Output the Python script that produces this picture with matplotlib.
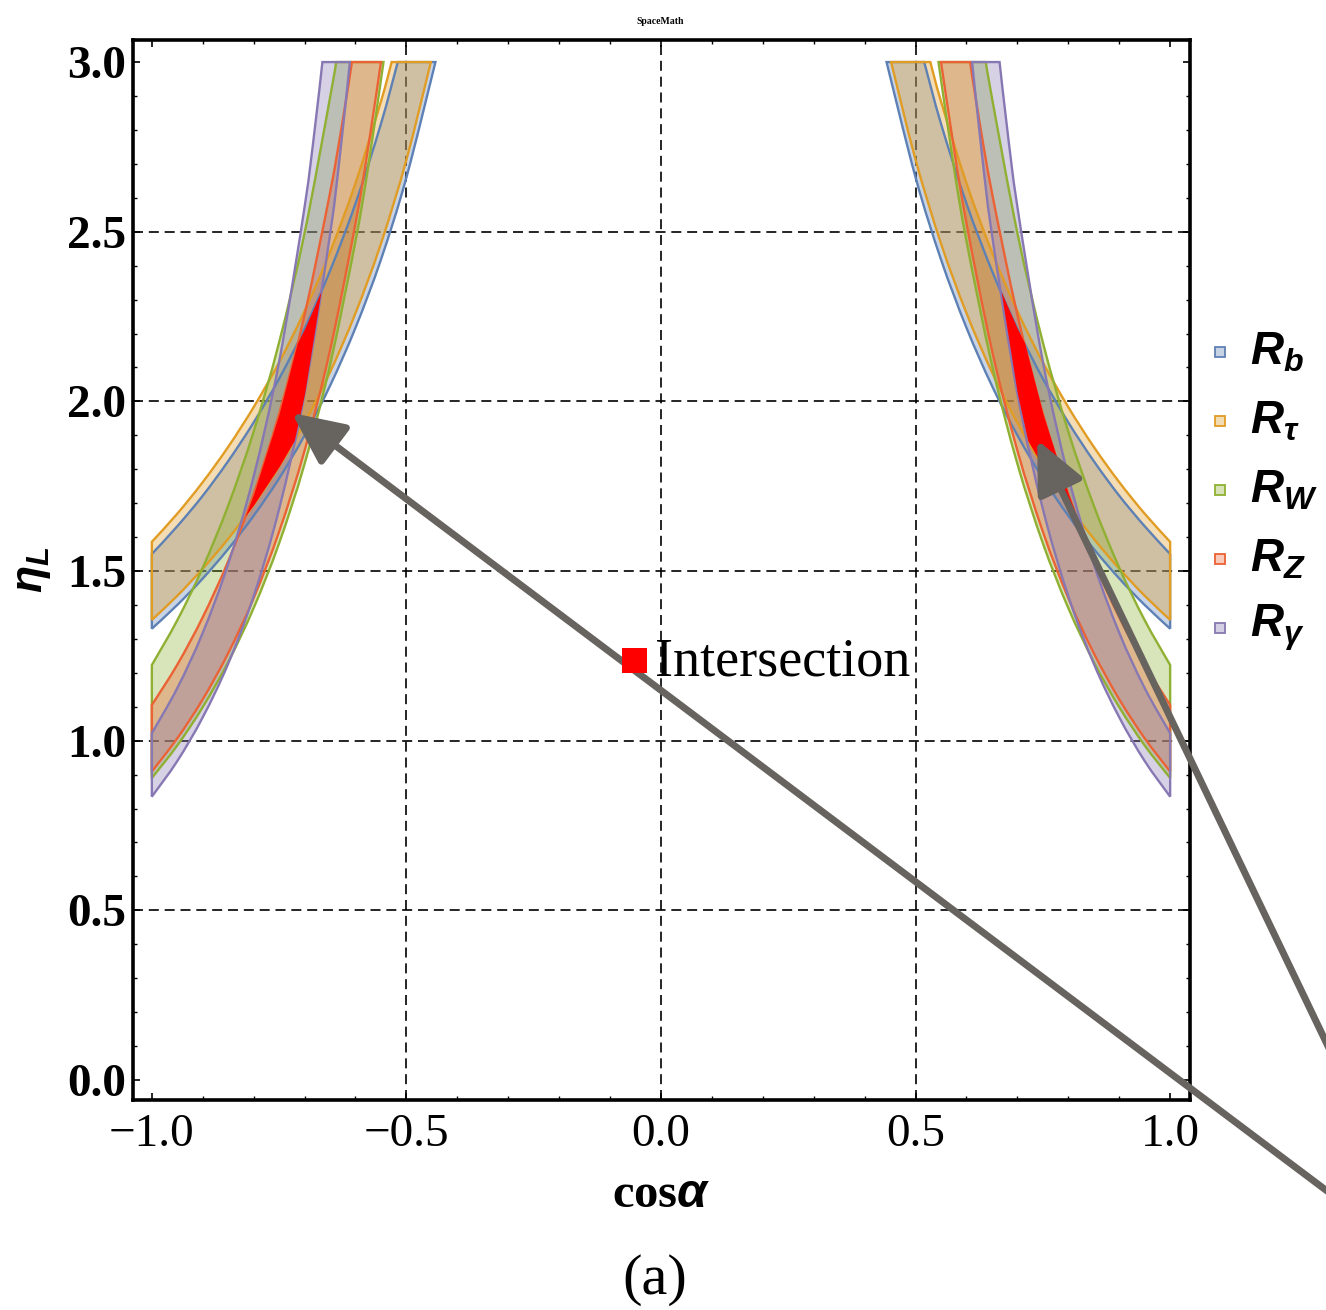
import numpy as np
import matplotlib
matplotlib.use('Agg')
import matplotlib.pyplot as plt
from matplotlib.patches import PathPatch, Rectangle
from matplotlib.path import Path
from matplotlib.ticker import MultipleLocator, FixedLocator, FixedFormatter

plt.rcParams['mathtext.fontset'] = 'custom'
plt.rcParams['mathtext.it'] = 'Liberation Sans:italic:bold'
plt.rcParams['mathtext.rm'] = 'Liberation Sans:bold'
plt.rcParams['mathtext.bf'] = 'Liberation Sans:bold'

# ---------------- data (left branch, cos(alpha) < 0; right branch is its mirror) ----
labels = [r'$R_b$', r'$R_\tau$', r'$R_W$', r'$R_Z$', r'$R_\gamma$']
colors = ['#5E81B5', '#E19C24', '#8FB032', '#EB6235', '#8778B3']

rb_up_x = [-1.0, -0.95, -0.9, -0.85, -0.8, -0.75, -0.7, -0.65, -0.6, -0.55, -0.517]
rb_up_y = [1.550, 1.632, 1.722, 1.824, 1.938, 2.067, 2.214, 2.385, 2.583, 2.818, 3.0]
rb_lo_x = [-1.0, -0.95, -0.9, -0.85, -0.8, -0.75, -0.7, -0.65, -0.6, -0.55, -0.5, -0.443]
rb_lo_y = [1.330, 1.400, 1.478, 1.565, 1.663, 1.773, 1.900, 2.046, 2.217, 2.418, 2.660, 3.0]

rt_up_x = [-1.0, -0.95, -0.9, -0.85, -0.8, -0.75, -0.7, -0.65, -0.6, -0.55, -0.529]
rt_up_y = [1.586, 1.669, 1.762, 1.866, 1.983, 2.115, 2.266, 2.440, 2.643, 2.884, 3.0]
rt_lo_x = [-1.0, -0.95, -0.9, -0.85, -0.8, -0.75, -0.7, -0.65, -0.6, -0.55, -0.5, -0.452]
rt_lo_y = [1.356, 1.427, 1.507, 1.595, 1.695, 1.808, 1.937, 2.086, 2.260, 2.465, 2.712, 3.0]

rw_up_x = [-1.0, -0.95, -0.9, -0.85, -0.8, -0.75, -0.7, -0.65, -0.638]
rw_up_y = [1.223, 1.355, 1.510, 1.693, 1.911, 2.174, 2.496, 2.895, 3.0]
rw_lo_x = [-1.0, -0.95, -0.9, -0.85, -0.8, -0.75, -0.7, -0.65, -0.6, -0.575, -0.545]
rw_lo_y = [0.890, 0.986, 1.099, 1.232, 1.391, 1.582, 1.816, 2.107, 2.472, 2.692, 3.0]

rz_up_x = [-1.0, -0.95, -0.9, -0.85, -0.8, -0.75, -0.7, -0.65, -0.625, -0.607]
rz_up_y = [1.105, 1.224, 1.364, 1.529, 1.727, 1.964, 2.255, 2.615, 2.829, 3.0]
rz_lo_x = [-1.0, -0.95, -0.9, -0.85, -0.8, -0.75, -0.7, -0.65, -0.6, -0.575, -0.550]
rz_lo_y = [0.909, 1.007, 1.122, 1.258, 1.420, 1.616, 1.855, 2.151, 2.525, 2.749, 3.0]

rg_up_x = [-1.0, -0.95, -0.9, -0.85, -0.8, -0.75, -0.7, -0.68, -0.665]
rg_up_y = [1.022, 1.155, 1.318, 1.521, 1.779, 2.117, 2.573, 2.803, 3.0]
rg_lo_x = [-1.0, -0.95, -0.9, -0.85, -0.8, -0.75, -0.7, -0.65, -0.63, -0.611]
rg_lo_y = [0.835, 0.940, 1.069, 1.227, 1.426, 1.683, 2.023, 2.492, 2.733, 3.0]

x_ticks = [-1.0, -0.5, 0.0, 0.5, 1.0]
x_ticklabels = ['\u22121.0', '\u22120.5', '0.0', '0.5', '1.0']
y_ticks = [0.0, 0.5, 1.0, 1.5, 2.0, 2.5, 3.0]
y_ticklabels = ['0.0', '0.5', '1.0', '1.5', '2.0', '2.5', '3.0']
grid_x = [-0.5, 0.0, 0.5]
grid_y = [0.5, 1.0, 1.5, 2.0, 2.5]

bands = [
    (rb_up_x, rb_up_y, rb_lo_x, rb_lo_y),
    (rt_up_x, rt_up_y, rt_lo_x, rt_lo_y),
    (rw_up_x, rw_up_y, rw_lo_x, rw_lo_y),
    (rz_up_x, rz_up_y, rz_lo_x, rz_lo_y),
    (rg_up_x, rg_up_y, rg_lo_x, rg_lo_y),
]


def smooth_segments(pts):
    """Catmull-Rom curve through pts, returned as cubic Bezier vertices/codes
    (without the starting point)."""
    P = np.vstack([pts[0], pts, pts[-1]])
    verts, codes = [], []
    for i in range(1, len(P) - 2):
        p0, p1, p2, p3 = P[i - 1], P[i], P[i + 1], P[i + 2]
        c1 = p1 + (p2 - p0) / 6.0
        c2 = p2 - (p3 - p1) / 6.0
        verts += [c1, c2, p2]
        codes += [Path.CURVE4] * 3
    return verts, codes


def band_path(ux, uy, lx, ly, sgn):
    up = np.column_stack([np.asarray(ux) * sgn, uy])
    lo = np.column_stack([np.asarray(lx) * sgn, ly])[::-1]
    verts, codes = [up[0]], [Path.MOVETO]
    v, c = smooth_segments(up)
    verts += v; codes += c
    verts.append(lo[0]); codes.append(Path.LINETO)
    v, c = smooth_segments(lo)
    verts += v; codes += c
    verts.append(up[0]); codes.append(Path.CLOSEPOLY)
    return Path(np.array(verts), codes)


# ---------------- figure ----------------
W, H = 1326, 1310
fig = plt.figure(figsize=(W / 100, H / 100), dpi=100)
ax = fig.add_axes([133 / W, 1 - 1100 / H, (1190 - 133) / W, (1100 - 40) / H])
ax.set_xlim(-1.037, 1.039)
ax.set_ylim(-0.059, 3.065)

for gx in grid_x:
    ax.axvline(gx, color='black', lw=1.2, ls=(0, (6, 3.5)), zorder=1)
for gy in grid_y:
    ax.axhline(gy, color='black', lw=1.2, ls=(0, (6, 3.5)), zorder=1)

for (ux, uy, lx, ly), col in zip(bands, colors):
    for sgn in (1, -1):
        path = band_path(ux, uy, lx, ly, sgn)
        ax.add_patch(PathPatch(path, facecolor=col, alpha=0.34,
                               edgecolor='none', zorder=2))
        ax.add_patch(PathPatch(path, facecolor='none',
                               edgecolor=col, lw=1.7, zorder=3))

# intersection of all bands
g = np.linspace(1.4, 2.6, 2401)
left = np.max([np.interp(g, uy, ux) for ux, uy, lx, ly in bands], axis=0)
right = np.min([np.interp(g, ly, lx) for ux, uy, lx, ly in bands], axis=0)
ok = left < right
ax.fill_betweenx(g, left, right, where=ok, color='#FF0000', lw=0, zorder=4)
ax.fill_betweenx(g, -right, -left, where=ok, color='#FF0000', lw=0, zorder=4)

# axes style
for s in ax.spines.values():
    s.set_linewidth(2.6)
ax.xaxis.set_major_locator(FixedLocator(x_ticks))
ax.xaxis.set_major_formatter(FixedFormatter(x_ticklabels))
ax.yaxis.set_major_locator(FixedLocator(y_ticks))
ax.yaxis.set_major_formatter(FixedFormatter(y_ticklabels))
ax.xaxis.set_minor_locator(MultipleLocator(0.1))
ax.yaxis.set_minor_locator(MultipleLocator(0.1))
ax.tick_params(which='both', direction='in', top=True, right=True)
ax.tick_params(which='major', length=5, width=1.2)
ax.tick_params(which='minor', length=3, width=1.0)
ax.tick_params(axis='x', which='major', pad=10, labelsize=34)
ax.tick_params(axis='y', which='major', pad=5, labelsize=34)
for t in ax.get_xticklabels():
    t.set_fontfamily('Liberation Serif')
for t in ax.get_yticklabels():
    t.set_fontfamily('Liberation Serif')
    t.set_fontweight('bold')

ax.set_xlabel(r'cos$\alpha$', fontsize=35, fontfamily='Liberation Serif',
              fontweight='bold', labelpad=12)
ax.set_ylabel(r'$\eta_L$', fontsize=32, labelpad=10)

fig.text(660 / W, 1 - 22 / H, 'SpaceMath', fontsize=7, fontweight='bold',
         fontfamily='Liberation Serif', ha='center', va='center')
fig.text(655 / W, 1 - 1280 / H, '(a)', fontsize=42, fontfamily='Liberation Serif',
         ha='center', va='center')

# Intersection legend
fig.patches.append(Rectangle((622 / W, 1 - 673 / H), 25 / W, 25 / H,
                             transform=fig.transFigure, facecolor='#FF0000',
                             edgecolor='none', zorder=6))
fig.text(655 / W, 1 - 662 / H, 'Intersection', fontsize=39,
         fontfamily='Liberation Serif', ha='left', va='center', zorder=6)

# right-hand legend
for i, (lab, col) in enumerate(zip(labels, colors)):
    yc = 352 + 69 * i
    fig.patches.append(Rectangle((1215 / W, 1 - (yc + 5) / H), 10 / W, 10 / H,
                                 transform=fig.transFigure, facecolor=col, alpha=0.35,
                                 edgecolor='none'))
    fig.patches.append(Rectangle((1215 / W, 1 - (yc + 5) / H), 10 / W, 10 / H,
                                 transform=fig.transFigure, facecolor='none',
                                 edgecolor=col, lw=1.3))
    fig.text(1250 / W, 1 - yc / H, lab, fontsize=33, ha='left', va='center')

# arrows
arrow_kw = dict(arrowstyle='-|>,head_length=1.6,head_width=0.75', color='#67635f',
                lw=5, shrinkA=0, shrinkB=0, mutation_scale=20)
ax.annotate('', xy=(-0.725, 1.966), xycoords='data',
            xytext=(1.06, 1 - 1250 / H), textcoords='figure fraction',
            arrowprops=arrow_kw, annotation_clip=False, zorder=7)
ax.annotate('', xy=(0.739, 1.886), xycoords='data',
            xytext=(1.03, 1 - 1125 / H), textcoords='figure fraction',
            arrowprops=arrow_kw, annotation_clip=False, zorder=7)

fig.savefig('out.png', dpi=100)
